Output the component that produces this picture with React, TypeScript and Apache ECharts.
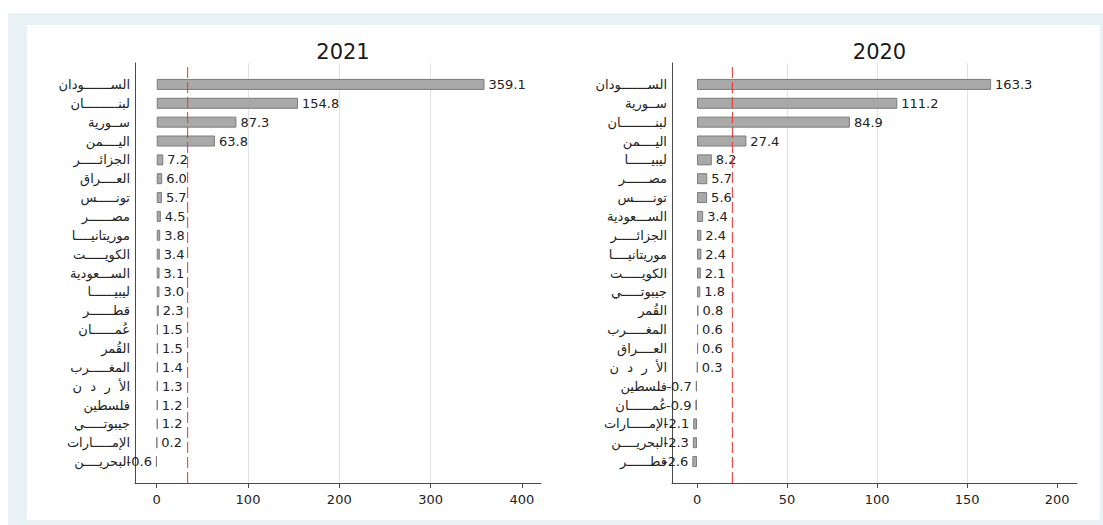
import React, { useEffect, useRef } from "react";
import * as echarts from "echarts";

// Panel titles
const title2021 = "2021";
const title2020 = "2020";

// 2021 ranking
const categories2021 = [
  "الســـــــودان",
  "لبنـــــــــان",
  "ســورية",
  "اليــــمن",
  "الجزائـــــر",
  "العــــراق",
  "تونـــــس",
  "مصــــــر",
  "موريتانيــــا",
  "الكويـــــت",
  "الســـعودية",
  "ليبيــــــا",
  "قطــــــر",
  "عُمــــــان",
  "القُمر",
  "المغـــــرب",
  "الأ  ر  د  ن",
  "فلسطين",
  "جيبوتـــــي",
  "الإمـــــارات",
  "البحريــــن",
];
const values2021 = [359.1, 154.8, 87.3, 63.8, 7.2, 6.0, 5.7, 4.5, 3.8, 3.4, 3.1, 3.0, 2.3, 1.5, 1.5, 1.4, 1.3, 1.2, 1.2, 0.2, -0.6];

// 2020 ranking
const categories2020 = [
  "الســـــــودان",
  "ســورية",
  "لبنـــــــــان",
  "اليــــمن",
  "ليبيــــــا",
  "مصــــــر",
  "تونـــــس",
  "الســـعودية",
  "الجزائـــــر",
  "موريتانيــــا",
  "الكويـــــت",
  "جيبوتـــــي",
  "القُمر",
  "المغـــــرب",
  "العــــراق",
  "الأ  ر  د  ن",
  "فلسطين",
  "عُمــــــان",
  "الإمـــــارات",
  "البحريــــن",
  "قطــــــر",
];
const values2020 = [163.3, 111.2, 84.9, 27.4, 8.2, 5.7, 5.6, 3.4, 2.4, 2.4, 2.1, 1.8, 0.8, 0.6, 0.6, 0.3, -0.7, -0.9, -2.1, -2.3, -2.6];

// Tick labels of the value axes
const xTicks2021 = [0, 100, 200, 300, 400];
const xTicks2020 = [0, 50, 100, 150, 200];

const FONT = "'DejaVu Sans', 'Liberation Sans', sans-serif";
const W = 1103;
const H = 525;

type Panel = {
  title: string;
  cats: string[];
  vals: number[];
  ticks: number[];
  xMin: number;
  xMax: number;
  left: number;
  right: number;
};

const panels: Panel[] = [
  { title: title2021, cats: categories2021, vals: values2021, ticks: xTicks2021, xMin: -23.8, xMax: 421, left: 135, right: 562 },
  { title: title2020, cats: categories2020, vals: values2020, ticks: xTicks2020, xMin: -13.9, xMax: 211, left: 672, right: 26 },
];

function buildOption() {
  const grid: any[] = [];
  const xAxis: any[] = [];
  const yAxis: any[] = [];
  const series: any[] = [];
  const title: any[] = [];

  panels.forEach((p, i) => {
    const frameIdx = i * 2;
    const barIdx = i * 2 + 1;
    const mean = p.vals.reduce((a, b) => a + b, 0) / p.vals.length;

    // frame grid: axis lines, ticks, gridlines, mean line
    grid.push({ left: p.left, right: p.right, top: 63, bottom: 42, containLabel: false, outerBoundsMode: "none" });
    // bar grid: slightly inset vertically
    grid.push({ left: p.left, right: p.right, top: 75, bottom: 54, containLabel: false, outerBoundsMode: "none" });

    xAxis.push({
      type: "value",
      gridIndex: frameIdx,
      min: p.xMin,
      max: p.xMax,
      axisLine: { show: true, onZero: false, lineStyle: { color: "#4a4a4a", width: 1 } },
      axisTick: { show: true, length: 5, customValues: p.ticks, lineStyle: { color: "#4a4a4a" } },
      axisLabel: { customValues: p.ticks, margin: 10, fontSize: 13, color: "#222", fontFamily: FONT },
      splitLine: { show: true, showMinLine: false, showMaxLine: false, lineStyle: { color: "#e2e2e2", width: 1 } },
    });
    xAxis.push({
      type: "value",
      gridIndex: barIdx,
      min: p.xMin,
      max: p.xMax,
      show: false,
    });

    yAxis.push({
      type: "value",
      gridIndex: frameIdx,
      min: 0,
      max: 1,
      axisLine: { show: true, onZero: false, lineStyle: { color: "#4a4a4a", width: 1 } },
      axisTick: { show: false },
      axisLabel: { show: false },
      splitLine: { show: false },
    });
    yAxis.push({
      type: "category",
      gridIndex: barIdx,
      inverse: true,
      data: p.cats,
      axisLine: { show: false },
      axisTick: { show: false },
      axisLabel: { margin: 5, fontSize: 13, color: "#222", fontFamily: FONT },
      splitLine: { show: false },
    });

    series.push({
      type: "bar",
      xAxisIndex: barIdx,
      yAxisIndex: barIdx,
      barWidth: 11,
      itemStyle: { color: "#a9a9a9", borderColor: "#7c7c7c", borderWidth: 1 },
      label: {
        show: true,
        distance: 4,
        fontSize: 13,
        color: "#222",
        fontFamily: FONT,
        formatter: (d: any) => Number(d.value).toFixed(1),
      },
      data: p.vals.map((v) => ({ value: v, label: { position: v < 0 ? "left" : "right" } })),
    });

    series.push({
      type: "line",
      xAxisIndex: frameIdx,
      yAxisIndex: frameIdx,
      symbol: "none",
      silent: true,
      lineStyle: { color: "#e8342c", width: 1, type: [11, 4] },
      data: [
        [mean, 0],
        [mean, 1],
      ],
    });

    title.push({
      text: p.title,
      left: p.left + (W - p.left - p.right) / 2,
      top: 36,
      textAlign: "center",
      textStyle: { fontSize: 21, fontWeight: "normal", color: "#1a1a1a", fontFamily: FONT },
    });
  });

  return { animation: false, title, grid, xAxis, yAxis, series };
}

export default function App() {
  const ref = useRef<HTMLDivElement>(null);

  useEffect(() => {
    if (!ref.current) return;
    const chart = echarts.init(ref.current, undefined, { renderer: "svg" });
    chart.setOption(buildOption() as any);
    return () => chart.dispose();
  }, []);

  return (
    <div style={{ position: "fixed", left: 0, top: 0, width: W, height: H, background: "#fff" }}>
      <div style={{ position: "absolute", left: 8, top: 13, width: 1095, height: 512, background: "#e9f2f5" }} />
      <div style={{ position: "absolute", left: 27, top: 25, width: 1073, height: 495, background: "#fff" }} />
      <div ref={ref} style={{ position: "absolute", left: 0, top: 0, width: W, height: H }} />
    </div>
  );
}
